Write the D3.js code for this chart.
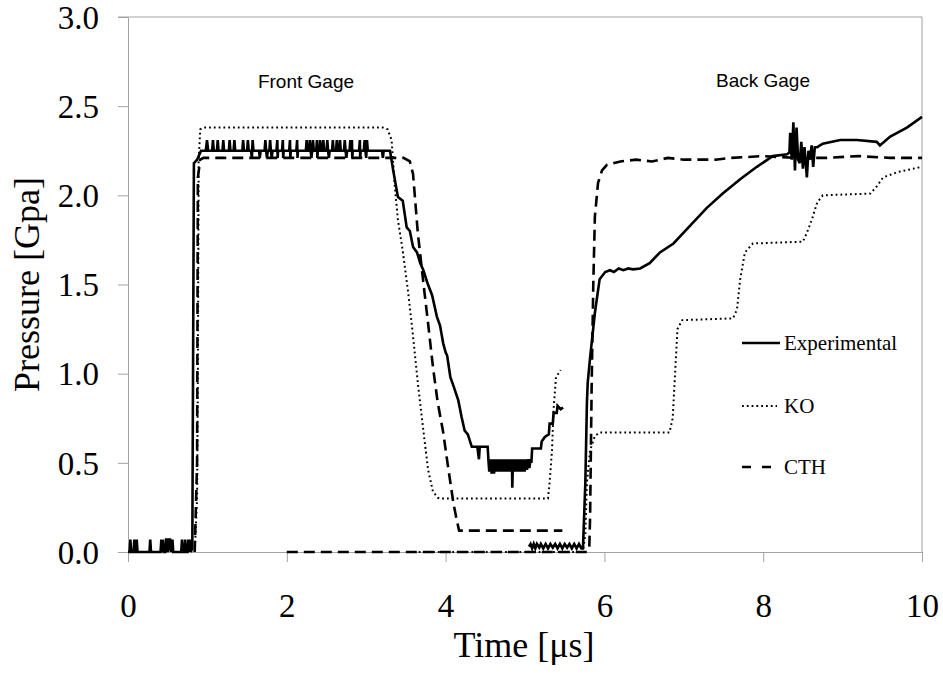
<!DOCTYPE html>
<html>
<head>
<meta charset="utf-8">
<script src="https://cdn.jsdelivr.net/npm/d3@7"></script>
<style>
  html, body { margin: 0; padding: 0; background: #fff; }
  svg { display: block; }
</style>
</head>
<body>
<svg id="chart" width="943" height="676"></svg>
<script>
// ---- data (time in µs, pressure in GPa) ----
const xTicks = [0, 2, 4, 6, 8, 10];
const yTicks = [0, 0.5, 1.0, 1.5, 2.0, 2.5, 3.0];
const seriesNames = ["Experimental", "KO", "CTH"];
const gageLabels = ["Front Gage", "Back Gage"];

const expFront = [
  [0,0],[0.02,0],[0.03,0.07],[0.04,0],[0.07,0],[0.08,0.07],[0.09,0],[0.1,0],[0.11,0.07],[0.12,0],
  [0.27,0],[0.28,0.07],[0.29,0],
  [0.41,0],[0.42,0.07],[0.43,0],[0.44,0.07],[0.45,0],[0.47,0],[0.48,0.07],[0.49,0.07],[0.5,0],[0.52,0.07],[0.53,0.07],[0.54,0],[0.56,0.07],[0.57,0],
  [0.67,0],[0.68,0.07],[0.69,0],[0.71,0],[0.72,0.07],[0.73,0],[0.75,0],[0.76,0.07],[0.77,0],[0.78,0.07],[0.79,0],
  [0.81,0.02],[0.83,2.18],[0.87,2.2],[0.89,2.22],[0.92,2.25],
  [0.98,2.25],[0.995,2.31],[1.01,2.25],[1.06,2.25],[1.07,2.31],[1.08,2.25],[1.12,2.25],[1.13,2.31],[1.14,2.25],
  [1.19,2.25],[1.2,2.31],[1.21,2.25],[1.27,2.25],[1.28,2.31],[1.29,2.25],[1.33,2.25],[1.34,2.31],[1.35,2.25],
  [1.44,2.25],[1.45,2.31],[1.46,2.25],[1.5,2.25],[1.51,2.31],[1.52,2.25],[1.55,2.25],[1.56,2.21],[1.57,2.31],[1.58,2.25],
  [1.65,2.25],[1.66,2.21],[1.67,2.25],[1.72,2.25],[1.73,2.31],[1.74,2.25],[1.75,2.21],[1.76,2.25],
  [1.78,2.25],[1.79,2.31],[1.8,2.25],[1.81,2.21],[1.82,2.25],[1.87,2.25],[1.88,2.31],[1.885,2.21],[1.89,2.25],
  [1.94,2.25],[1.95,2.31],[1.955,2.21],[1.96,2.25],[2.03,2.25],[2.04,2.31],[2.045,2.21],[2.05,2.25],
  [2.12,2.25],[2.13,2.31],[2.135,2.21],[2.14,2.25],[2.24,2.25],[2.25,2.31],[2.26,2.25],[2.28,2.25],[2.29,2.31],[2.3,2.25],
  [2.31,2.21],[2.32,2.25],[2.33,2.31],[2.34,2.25],[2.37,2.25],[2.38,2.31],[2.385,2.21],[2.39,2.25],
  [2.41,2.25],[2.42,2.31],[2.43,2.25],[2.45,2.25],[2.46,2.31],[2.47,2.25],[2.5,2.25],[2.51,2.31],[2.52,2.25],[2.53,2.21],[2.54,2.25],
  [2.57,2.25],[2.58,2.31],[2.59,2.25],[2.62,2.25],[2.63,2.31],[2.64,2.25],[2.66,2.25],[2.67,2.31],[2.68,2.25],
  [2.72,2.25],[2.73,2.31],[2.74,2.25],[2.75,2.21],[2.76,2.25],[2.79,2.25],[2.8,2.31],[2.81,2.25],[2.82,2.31],[2.825,2.21],[2.83,2.25],
  [2.91,2.25],[2.92,2.31],[2.925,2.21],[2.93,2.25],[2.97,2.25],[2.98,2.31],[2.99,2.25],[3.0,2.21],[3.01,2.31],[3.02,2.25],
  [3.2,2.25],[3.21,2.21],[3.22,2.25],[3.3,2.25],
  [3.34,2.14],[3.4,1.99],[3.46,1.97],[3.51,1.82],[3.55,1.8],[3.59,1.71],[3.64,1.68],[3.68,1.62],[3.72,1.58],[3.77,1.51],
  [3.83,1.44],[3.89,1.32],[3.93,1.27],[3.97,1.17],[4.0,1.12],[4.02,1.1],[4.06,0.98],[4.1,0.93],[4.16,0.85],[4.2,0.76],
  [4.24,0.68],[4.28,0.66],[4.33,0.59],[4.4,0.59],[4.42,0.52],[4.43,0.59],[4.53,0.59],[4.54,0.51],
  [4.55,0.45],[4.565,0.52],[4.58,0.44],[4.595,0.52],[4.61,0.44],[4.625,0.52],[4.64,0.45],[4.655,0.52],[4.67,0.45],[4.685,0.52],
  [4.7,0.45],[4.715,0.52],[4.73,0.45],[4.745,0.52],[4.76,0.45],[4.775,0.52],[4.79,0.45],[4.805,0.52],[4.82,0.45],[4.835,0.52],
  [4.84,0.36],[4.845,0.45],[4.86,0.52],[4.875,0.45],[4.89,0.52],[4.905,0.45],[4.92,0.52],[4.935,0.45],[4.95,0.52],[4.965,0.45],
  [4.98,0.52],[4.995,0.45],[5.01,0.52],[5.025,0.46],[5.04,0.52],[5.055,0.47],[5.07,0.52],[5.08,0.5],
  [5.09,0.58],[5.2,0.58],[5.21,0.62],[5.25,0.645],[5.3,0.66],[5.31,0.72],[5.35,0.72],[5.36,0.78],[5.4,0.78],[5.41,0.82],[5.45,0.8],[5.48,0.81]
];

const expBack = [
  [5.05,0.03],[5.07,0.045],[5.09,0.02],[5.11,0.045],[5.13,0.02],[5.15,0.045],[5.18,0.025],[5.2,0.045],[5.23,0.02],
  [5.26,0.045],[5.29,0.02],[5.32,0.045],[5.35,0.025],[5.38,0.045],[5.41,0.02],[5.44,0.045],[5.47,0.02],[5.5,0.045],
  [5.53,0.025],[5.56,0.045],[5.59,0.02],[5.62,0.045],[5.65,0.02],[5.68,0.045],[5.71,0.02],[5.73,0.02],
  [5.76,0.39],[5.78,0.84],[5.79,0.95],[5.82,1.09],[5.88,1.34],[5.94,1.53],[6.01,1.57],[6.07,1.58],[6.12,1.57],
  [6.18,1.59],[6.24,1.58],[6.3,1.59],[6.36,1.585],[6.45,1.59],[6.57,1.62],[6.7,1.68],[6.87,1.73],[7.08,1.83],
  [7.29,1.93],[7.49,2.01],[7.71,2.09],[7.92,2.16],[8.12,2.22],[8.3,2.23],
  [8.33,2.24],[8.34,2.35],[8.36,2.2],[8.38,2.41],[8.4,2.14],[8.42,2.38],[8.44,2.2],[8.46,2.18],[8.48,2.3],[8.5,2.15],
  [8.52,2.27],[8.55,2.1],[8.57,2.25],[8.59,2.2],[8.61,2.28],[8.63,2.16],[8.65,2.27],[8.68,2.27],
  [8.75,2.29],[8.97,2.31],[9.18,2.31],[9.43,2.3],[9.47,2.28],[9.6,2.33],[9.81,2.38],[10,2.44]
];

const koFront = [
  [0.84,0],[0.87,0.3],[0.88,1.0],[0.89,2.2],[0.91,2.37],[0.95,2.38],[3.21,2.38],[3.27,2.37],[3.32,2.31],[3.36,2.05],
  [3.4,1.86],[3.46,1.69],[3.53,1.45],[3.59,1.21],[3.65,0.95],[3.72,0.68],[3.78,0.46],[3.84,0.34],[3.9,0.305],[3.93,0.3],
  [5.29,0.3],[5.31,0.39],[5.34,0.57],[5.36,0.8],[5.39,0.98],[5.45,1.02]
];

const koBack = [
  [3.6,0],[5.73,0],[5.76,0.1],[5.78,0.39],[5.82,0.57],[5.88,0.65],[5.94,0.67],[6.82,0.67],[6.86,0.75],[6.89,1.0],
  [6.92,1.25],[6.98,1.3],[7.62,1.31],[7.67,1.36],[7.71,1.53],[7.77,1.68],[7.87,1.73],[8.5,1.74],[8.55,1.79],[8.61,1.86],
  [8.68,1.96],[8.75,2.0],[9.35,2.01],[9.43,2.05],[9.51,2.1],[9.69,2.13],[10,2.16]
];

const cthFront = [
  [0.84,0],[0.87,0.5],[0.88,2.1],[0.91,2.2],[0.95,2.21],[3.39,2.21],[3.47,2.21],[3.55,2.19],[3.59,2.12],[3.65,1.79],
  [3.72,1.51],[3.78,1.28],[3.84,1.04],[3.9,0.84],[3.97,0.67],[4.03,0.48],[4.1,0.27],[4.14,0.18],[4.17,0.12],[4.2,0.12],[5.47,0.12]
];

const cthBack = [
  [2.0,0],[5.78,0],[5.81,0.03],[5.82,0.2],[5.84,0.95],[5.86,1.5],[5.88,1.88],[5.92,2.07],[5.97,2.14],[6.03,2.17],
  [6.2,2.19],[6.4,2.2],[6.6,2.19],[6.8,2.21],[7.0,2.2],[7.4,2.2],[7.6,2.21],[8.0,2.22],[8.4,2.21],[8.8,2.21],
  [9.2,2.22],[9.6,2.21],[10,2.21]
];

// ---- layout ----
const plotLeft = 128, plotRight = 922, plotTop = 17, plotBottom = 552;
const svg = d3.select("#chart");
const x = d3.scaleLinear().domain([0, 10]).range([plotLeft, plotRight]);
const y = d3.scaleLinear().domain([0, 3]).range([plotBottom, plotTop]);
const axisColor = "#a3a3a3";
const serif = "'Liberation Serif', 'Times New Roman', serif";
const sans = "'Liberation Sans', Arial, sans-serif";

// frame (top & right)
svg.append("line").attr("x1", plotLeft - 10).attr("x2", plotRight).attr("y1", y(3)).attr("y2", y(3))
  .attr("stroke", axisColor).attr("stroke-width", 1);
svg.append("line").attr("x1", plotRight).attr("x2", plotRight).attr("y1", y(3)).attr("y2", y(0))
  .attr("stroke", axisColor).attr("stroke-width", 1);

// axes
const gx = svg.append("g").attr("transform", `translate(0,${plotBottom})`)
  .call(d3.axisBottom(x).tickValues(xTicks).tickSize(10).tickSizeOuter(0).tickFormat(d3.format("d")));
const gy = svg.append("g").attr("transform", `translate(${plotLeft},0)`)
  .call(d3.axisLeft(y).tickValues(yTicks).tickSize(10).tickSizeOuter(0).tickFormat(d3.format(".1f")));
[gx, gy].forEach(g => {
  g.select(".domain").attr("stroke", axisColor);
  g.selectAll(".tick line").attr("stroke", axisColor);
  g.selectAll("text").attr("fill", "#000").style("font-family", serif).style("font-size", "33px");
});
gx.selectAll("text").attr("y", 65).attr("dy", 0);
gy.selectAll("text").attr("x", -29).attr("dy", "0.34em");

// axis titles
svg.append("text").attr("x", 524).attr("y", 657).attr("text-anchor", "middle")
  .style("font-family", serif).style("font-size", "36px").text("Time [\u03bcs]");
svg.append("text").attr("transform", `translate(39,${(plotTop + plotBottom) / 2}) rotate(-90)`)
  .attr("text-anchor", "middle").style("font-family", serif).style("font-size", "36px").text("Pressure [Gpa]");

// gage labels
svg.append("text").attr("x", 306).attr("y", 88).attr("text-anchor", "middle")
  .style("font-family", sans).style("font-size", "19px").text(gageLabels[0]);
svg.append("text").attr("x", 763).attr("y", 87).attr("text-anchor", "middle")
  .style("font-family", sans).style("font-size", "19px").text(gageLabels[1]);

// series
const line = d3.line().x(d => x(d[0])).y(d => y(d[1]));
const styles = {
  Experimental: { w: 2.6, dash: null },
  KO: { w: 2, dash: "1.8,3" },
  CTH: { w: 2.6, dash: "11,6" }
};
const seriesData = [
  ["CTH", cthBack], ["CTH", cthFront],
  ["KO", koBack], ["KO", koFront],
  ["Experimental", expFront], ["Experimental", expBack]
];
seriesData.forEach(([name, data]) => {
  const s = styles[name];
  svg.append("path").datum(data).attr("d", line)
    .attr("fill", "none").attr("stroke", "#000")
    .attr("stroke-width", s.w)
    .attr("stroke-linejoin", "miter")
    .attr("stroke-dasharray", s.dash);
});

// legend
const legY = [343, 406, 467];
const legLen = [38, 35, 30];
seriesNames.forEach((name, i) => {
  const s = styles[name];
  svg.append("line").attr("x1", 742).attr("x2", 742 + legLen[i]).attr("y1", legY[i]).attr("y2", legY[i])
    .attr("stroke", "#000").attr("stroke-width", s.w)
    .attr("stroke-dasharray", name === "CTH" ? "9,11" : s.dash);
  svg.append("text").attr("x", 784).attr("y", legY[i] + 7)
    .style("font-family", serif).style("font-size", "21px").text(name);
});
</script>
</body>
</html>
